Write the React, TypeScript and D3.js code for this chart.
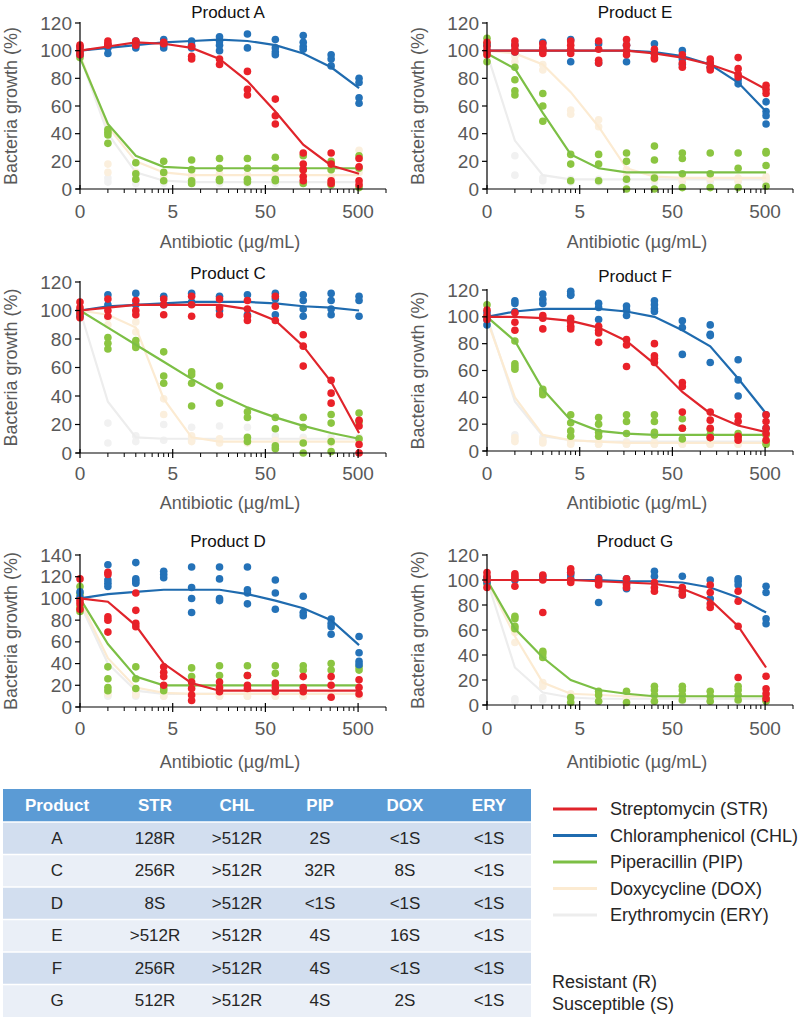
import * as d3 from 'd3';

// concentrations (µg/mL); the untreated control (0) sits at 0.5 on the log axis
const conc = [0.5, 1, 2, 4, 8, 16, 32, 64, 128, 256, 512];
const xTickValues = [0.5, 5, 50, 500];
const xTickLabels = ['0', '5', '50', '500'];

const drugs = ['STR', 'CHL', 'PIP', 'DOX', 'ERY'];
const drugNames = ['Streptomycin (STR)', 'Chloramphenicol (CHL)', 'Piperacillin (PIP)', 'Doxycycline (DOX)', 'Erythromycin (ERY)'];
const lineColors = ['#E0242B', '#1F6BAF', '#7CBF45', '#FCEBD2', '#EDEDED'];
const dotColors = ['#EA2129', '#2472B8', '#8BC541', '#FBEFDD', '#F1F1F1'];

// fitted curves, rows in drug order STR, CHL, PIP, DOX, ERY
const fitA = [
  [100, 103, 106, 105, 102, 94, 78, 56, 32, 17, 11],
  [100, 102, 104, 106, 107, 108, 107, 104, 98, 88, 73],
  [95, 47, 24, 16, 15, 15, 15, 15, 15, 15, 15],
  [97, 45, 20, 12, 10, 10, 10, 10, 10, 10, 10],
  [96, 40, 12, 6, 5, 5, 5, 5, 5, 5, 5],
];
const ptsA = [
  [[104, 102, 99, 97], [107, 105, 104], [107, 106, 104], [106, 105], [103, 96, 94], [94, 90], [85, 72, 68], [65, 53, 47], [26, 18, 14, 9, 6], [26, 18, 6, 4], [22, 16, 6, 3]],
  [[103, 100, 97], [104, 102, 98], [107, 104, 102], [108, 104, 102], [107, 104, 102], [110, 107, 104, 100], [112, 102], [108, 102, 99, 97], [111, 106, 103, 101], [97, 94, 89], [80, 77, 66, 62]],
  [[98, 95], [43, 41, 39, 33], [19, 11, 7], [20, 12, 6], [21, 14, 6, 4], [22, 15, 7, 6], [22, 15, 7, 5], [23, 15, 7, 6], [24, 14, 4], [20, 14, 3], [24, 15, 1]],
  [[100, 96], [18, 12], [12, 8], [11, 9], [10, 8], [11, 9], [10, 8], [11, 9], [12, 8], [14, 9], [28, 12]],
  [[98, 95], [8, 5], [6, 4], [5, 4], [6, 4], [5, 4], [6, 4], [5, 4], [6, 4], [5, 3], [6, 3]],
];

const fitE = [
  [100, 100, 100, 100, 100, 100, 98, 95, 90, 83, 72],
  [100, 100, 100, 100, 100, 100, 99, 96, 90, 77, 56],
  [98, 87, 55, 25, 15, 12, 12, 12, 12, 12, 12],
  [100, 98, 90, 70, 45, 15, 9, 8, 8, 8, 8],
  [98, 35, 10, 7, 7, 7, 7, 7, 7, 7, 7],
];
const ptsE = [
  [[106, 103, 100, 97], [107, 104, 101, 99], [105, 102, 100, 98], [107, 104, 101, 98], [107, 101, 93, 91], [108, 104, 100, 97], [101, 98, 95, 94], [97, 91, 88], [94, 91, 88, 86], [95, 87, 83, 81], [75, 72, 69]],
  [[104, 100], [104, 99], [106, 101], [108, 92], [105, 91], [104, 92], [105, 98], [100, 94, 90], [91, 88], [79, 76], [63, 56, 53, 47]],
  [[109, 105, 98, 92], [88, 79, 71, 68], [69, 60, 49], [25, 18, 6], [25, 18, 6], [26, 20, 7, 0], [31, 21, 8, 0], [26, 22, 11, 1], [26, 11, 1], [26, 15, 1], [27, 26, 17, 2]],
  [[100, 97], [96, 92], [90, 86], [57, 54], [50, 45], [14, 10], [9, 7], [8, 6], [9, 7], [8, 6], [9, 7]],
  [[98, 95], [24, 10], [8, 6], [7, 5], [7, 5], [7, 5], [7, 5], [7, 5], [7, 5], [7, 5], [7, 5]],
];

const fitC = [
  [100, 102, 104, 104, 104, 104, 101, 93, 75, 50, 14],
  [100, 103, 104, 105, 106, 106, 106, 105, 103, 102, 100],
  [100, 88, 76, 64, 52, 41, 32, 25, 19, 14, 10],
  [100, 97, 88, 38, 11, 8, 8, 8, 8, 8, 8],
  [100, 36, 11, 10, 10, 10, 10, 10, 10, 10, 10],
];
const ptsC = [
  [[106, 102, 98, 95], [108, 100, 96], [107, 100, 97], [108, 104, 97], [110, 104, 96], [108, 102, 97], [107, 101, 96, 93], [110, 103, 93], [83, 75, 61], [51, 42, 35], [23, 19, 6, 0]],
  [[100, 96], [111, 104], [112, 104], [110, 104], [112, 106], [110, 100], [111, 97], [112, 108, 97], [111, 107, 101, 96], [112, 107, 101, 97], [110, 107, 96]],
  [[100, 97], [81, 77, 73], [79, 76, 74], [71, 54, 49], [57, 55, 49, 33], [47, 35], [29, 25, 11, 8], [25, 17, 5, 3], [25, 18, 7, 0], [27, 21, 8, 1], [28, 22, 10]],
  [[100, 96], [95, 90], [92, 85], [38, 27], [12, 8], [10, 7], [9, 7], [9, 7], [9, 7], [9, 7], [9, 7]],
  [[99, 96], [21, 7], [12, 8], [20, 9], [18, 9], [19, 9], [18, 9], [12, 9], [11, 9], [11, 9], [11, 9]],
];

const fitF = [
  [100, 100, 99, 97, 92, 82, 65, 44, 28, 19, 14],
  [100, 104, 106, 106, 106, 104, 100, 90, 78, 54, 28],
  [100, 82, 46, 23, 15, 13, 12, 12, 12, 12, 12],
  [98, 40, 12, 8, 7, 6, 6, 6, 6, 6, 6],
  [100, 37, 11, 8, 7, 7, 7, 7, 7, 7, 7],
];
const ptsF = [
  [[105, 101, 98], [103, 96, 90], [101, 99, 91], [99, 96, 93, 91], [93, 90, 88, 81], [83, 79, 63], [80, 71, 69, 66], [51, 48, 29, 17], [29, 23, 17, 10], [26, 22, 11, 8], [27, 22, 17, 13, 8]],
  [[103, 98, 94], [112, 110, 104], [117, 113, 110], [119, 117, 116], [110, 107, 98], [108, 105, 101], [112, 109, 106, 104], [97, 92, 72], [94, 87, 86, 66], [68, 53, 41], [27, 17]],
  [[109, 100], [82, 65, 63, 61], [46, 44, 42], [27, 21, 15, 11], [25, 20, 14, 11], [27, 22, 13], [27, 22, 14, 12], [24, 17, 9], [16, 12, 10], [13, 10], [12, 7, 5]],
  [[99, 96], [10, 7], [8, 6], [7, 5], [7, 5], [6, 5], [6, 5], [6, 5], [6, 5], [6, 5], [6, 5]],
  [[100, 97], [12, 8], [10, 7], [8, 6], [7, 5], [7, 5], [7, 5], [7, 5], [7, 5], [7, 5], [7, 5]],
];

const fitD = [
  [100, 97, 75, 40, 22, 15, 15, 15, 15, 15, 15],
  [100, 104, 106, 108, 108, 108, 104, 98, 91, 80, 57],
  [100, 58, 28, 20, 20, 20, 20, 20, 20, 20, 20],
  [98, 45, 18, 13, 12, 12, 12, 12, 12, 12, 12],
  [95, 40, 15, 12, 12, 12, 12, 12, 12, 12, 12],
];
const ptsD = [
  [[118, 98, 95, 90], [124, 122, 83, 80, 69], [105, 89, 77, 74], [37, 32, 28, 20], [23, 17, 11, 6], [23, 18, 14], [29, 20, 17], [22, 18, 14], [28, 18, 14], [28, 20, 9], [25, 18, 12]],
  [[106, 101], [131, 117, 114, 111], [133, 118, 116, 114], [125, 122, 119], [129, 110, 100, 87], [129, 118, 100, 98], [129, 108, 105, 95], [117, 105, 90], [102, 87, 84], [81, 77, 74, 67], [65, 50, 42, 39]],
  [[111, 104, 92, 88], [37, 26, 18, 15], [37, 26, 17], [17, 15], [36, 28, 20], [38, 29], [38, 29], [38, 31], [38, 34], [40, 34], [37, 34]],
  [[96, 92], [14, 12], [13, 11], [12, 10], [12, 10], [12, 10], [12, 10], [12, 10], [12, 10], [12, 10], [12, 10]],
  [[94, 90], [12, 10], [12, 10], [12, 10], [12, 10], [12, 10], [12, 10], [12, 10], [12, 10], [12, 10], [12, 10]],
];

const fitG = [
  [100, 100, 100, 100, 99, 98, 97, 93, 84, 63, 30],
  [100, 100, 100, 100, 100, 99, 99, 98, 94, 86, 74],
  [100, 61, 38, 20, 12, 9, 7, 7, 7, 7, 7],
  [100, 55, 18, 9, 8, 7, 7, 7, 7, 7, 7],
  [100, 30, 10, 6, 5, 5, 5, 5, 5, 5, 5],
];
const ptsG = [
  [[106, 103, 100, 94], [105, 103, 101, 95], [104, 100, 74], [109, 106, 100, 98], [101, 98, 96], [101, 96, 94], [98, 94, 91], [94, 91, 88], [96, 90, 81, 78], [91, 83, 63, 22], [23, 13, 9, 5]],
  [[102, 98], [100], [103, 101], [106, 104, 101], [102, 82], [101, 97, 93], [107, 103], [103, 88], [100, 85], [101, 99, 96], [95, 90, 69, 65]],
  [[101, 97], [71, 69, 63, 61], [43, 41, 38], [6, 2], [11, 8, 3], [11, 2], [15, 12, 8, 3], [15, 12, 8, 4], [11, 7, 3], [15, 12, 8, 4], [5, 3]],
  [[98, 95], [58, 50], [18, 15], [9, 7], [8, 6], [7, 5], [7, 5], [7, 5], [7, 5], [7, 5], [7, 5]],
  [[97, 94], [5, 3], [6, 4], [5, 3], [5, 3], [5, 3], [5, 3], [5, 3], [5, 3], [5, 3], [5, 3]],
];

const tableHeaders = ['Product', 'STR', 'CHL', 'PIP', 'DOX', 'ERY'];
const tableRows = [
  ['A', '128R', '>512R', '2S', '<1S', '<1S'],
  ['C', '256R', '>512R', '32R', '8S', '<1S'],
  ['D', '8S', '>512R', '<1S', '<1S', '<1S'],
  ['E', '>512R', '>512R', '4S', '16S', '<1S'],
  ['F', '256R', '>512R', '4S', '<1S', '<1S'],
  ['G', '512R', '>512R', '4S', '2S', '<1S'],
];

const FONT = '"Liberation Sans", Arial, sans-serif';
const GREY = '#595959';

// panel placement
const panels = [
  { title: 'Product A', fit: fitA, pts: ptsA, x0: 80, top: 23, bottom: 189, yMax: 120, titleY: 12, tickY: 211, labelY: 242, yLabX: 11 },
  { title: 'Product E', fit: fitE, pts: ptsE, x0: 487, top: 23, bottom: 189, yMax: 120, titleY: 12, tickY: 211, labelY: 242, yLabX: 418 },
  { title: 'Product C', fit: fitC, pts: ptsC, x0: 80, top: 282, bottom: 453, yMax: 120, titleY: 273, tickY: 473, labelY: 503, yLabX: 11 },
  { title: 'Product F', fit: fitF, pts: ptsF, x0: 487, top: 290, bottom: 451, yMax: 120, titleY: 276, tickY: 473, labelY: 503, yLabX: 418 },
  { title: 'Product D', fit: fitD, pts: ptsD, x0: 80, top: 555, bottom: 707, yMax: 140, titleY: 541, tickY: 728, labelY: 762, yLabX: 11 },
  { title: 'Product G', fit: fitG, pts: ptsG, x0: 487, top: 555, bottom: 705, yMax: 120, titleY: 541, tickY: 728, labelY: 762, yLabX: 418 },
];

function Panel({ p }: { p: typeof panels[number] }) {
  const x = d3.scaleLog().domain([0.5, 1000]).range([p.x0, p.x0 + 306]);
  const y = d3.scaleLinear().domain([0, p.yMax]).range([p.bottom, p.top]);
  const line = d3.line<number>().x((_, i) => x(conc[i])).y(v => y(v));
  const yTicks = d3.range(0, p.yMax + 1, 20);
  const minor: number[] = [];
  xTickValues.forEach(b => d3.range(2, 10).forEach(k => { if (b * k <= 1000) minor.push(b * k); }));
  const order = [4, 3, 2, 1, 0];
  const cx = p.x0 + 148;

  return (
    <g fontFamily={FONT}>
      <text x={cx} y={p.titleY} textAnchor="middle" dominantBaseline="central" fontSize={17} fill="#111">{p.title}</text>
      {order.map(s => (
        <g key={s}>
          {p.pts[s].map((reps, i) => reps.map((v, j) => (
            <circle key={i + '-' + j} cx={x(conc[i])} cy={y(v)} r={3.8} fill={dotColors[s]} />
          )))}
          <path d={line(p.fit[s]) || ''} fill="none" stroke={lineColors[s]} strokeWidth={2.2} />
        </g>
      ))}
      {/* axes */}
      <line x1={p.x0} x2={p.x0} y1={p.top - 1} y2={p.bottom} stroke="#000" strokeWidth={1.2} />
      {yTicks.map(t => (
        <g key={t}>
          <line x1={p.x0 - 5} x2={p.x0} y1={y(t)} y2={y(t)} stroke="#000" strokeWidth={1.2} />
          <text x={p.x0 - 8} y={y(t)} textAnchor="end" dominantBaseline="central" fontSize={19} fill={GREY}>{t}</text>
        </g>
      ))}
      <line x1={p.x0 - 4} x2={p.x0 + 306} y1={p.bottom} y2={p.bottom} stroke="#000" strokeWidth={1.2} />
      {minor.map(t => (
        <line key={t} x1={x(t)} x2={x(t)} y1={p.bottom} y2={p.bottom + 4} stroke="#000" strokeWidth={1} />
      ))}
      {xTickValues.map((t, i) => (
        <g key={t}>
          <line x1={x(t)} x2={x(t)} y1={p.bottom - 4} y2={p.bottom + 5} stroke="#000" strokeWidth={1.2} />
          <text x={x(t)} y={p.tickY} textAnchor="middle" dominantBaseline="central" fontSize={19} fill={GREY}>{xTickLabels[i]}</text>
        </g>
      ))}
      <text x={cx + 2} y={p.labelY} textAnchor="middle" dominantBaseline="central" fontSize={18} fill={GREY}>Antibiotic (µg/mL)</text>
      <text transform={`translate(${p.yLabX},${(p.top + p.bottom) / 2}) rotate(-90)`} textAnchor="middle" dominantBaseline="central" fontSize={18} fill={GREY}>Bacteria growth (%)</text>
    </g>
  );
}

function Table() {
  const colX = [57, 155, 237, 320, 405, 489];
  const left = 3, right = 531, headTop = 789, headH = 33, rowH = 32.5;
  return (
    <g fontFamily={FONT} fontSize={17}>
      <rect x={left} y={headTop} width={right - left} height={headH} fill="#5B9BD5" />
      {tableHeaders.map((h, i) => (
        <text key={h} x={colX[i]} y={headTop + headH / 2} textAnchor="middle" dominantBaseline="central" fill="#fff" fontWeight="bold">{h}</text>
      ))}
      {tableRows.map((r, ri) => {
        const top = headTop + headH + ri * rowH;
        return (
          <g key={r[0]}>
            <rect x={left} y={top} width={right - left} height={rowH} fill={ri % 2 === 0 ? '#D2DEEF' : '#EAEFF7'} />
            <line x1={left} x2={right} y1={top} y2={top} stroke="#fff" strokeWidth={1.5} />
            {r.map((c, ci) => (
              <text key={ci} x={colX[ci]} y={top + rowH / 2} textAnchor="middle" dominantBaseline="central" fill="#262626">{c}</text>
            ))}
          </g>
        );
      })}
    </g>
  );
}

function Legend() {
  const y0 = 809, dy = 26.5;
  return (
    <g fontFamily={FONT} fontSize={18} fill="#262626">
      {drugNames.map((n, i) => (
        <g key={n}>
          <line x1={553} x2={597} y1={y0 + i * dy} y2={y0 + i * dy} stroke={lineColors[i]} strokeWidth={3} />
          <text x={610} y={y0 + i * dy} dominantBaseline="central">{n}</text>
        </g>
      ))}
      <text x={552} y={982} dominantBaseline="central">Resistant (R)</text>
      <text x={552} y={1004} dominantBaseline="central">Susceptible (S)</text>
    </g>
  );
}

export default function App() {
  return (
    <div style={{ position: 'absolute', left: 0, top: 0 }}>
      <svg width={800} height={1022} style={{ display: 'block', background: '#fff' }}>
        {panels.map(p => <Panel key={p.title} p={p} />)}
        <Table />
        <Legend />
      </svg>
    </div>
  );
}
